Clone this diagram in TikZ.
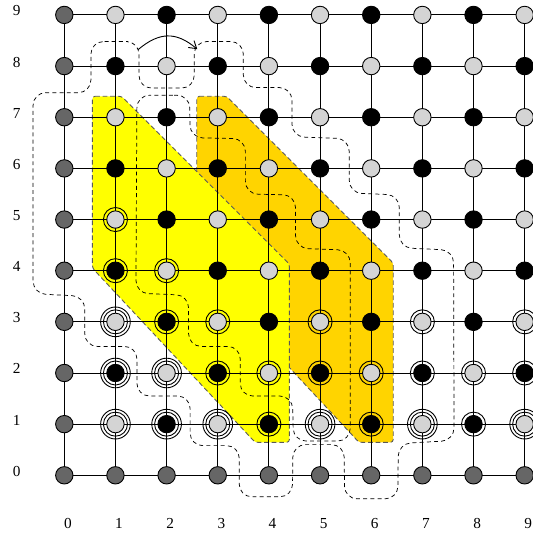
\documentclass[tikz,border=0pt]{standalone}
\usepackage{fontspec}
\setmainfont{Liberation Serif}
\usetikzlibrary{arrows.meta, backgrounds}

\definecolor{zoneyellow}{RGB}{255,255,0}
\definecolor{zonegold}{RGB}{255,212,0}

\tikzset{
    site/.style={circle, draw, line width=0.5pt, inner sep=0pt, minimum size=0.34cm},
    bordersite/.style={site, fill=black!60},
    lightsite/.style={site, fill=black!17},
    darksite/.style={site, fill=black},
    ring/.style={draw, line width=0.5pt},
    gridline/.style={line width=0.5pt},
    zone/.style={draw=black!65, line width=0.5pt, dash pattern=on 2.6pt off 1.6pt, rounded corners=1.5pt},
    contour/.style={draw, line width=0.4pt, dash pattern=on 2.2pt off 1.8pt, rounded corners=7pt},
    shiftarrow/.style={-{Straight Barb[length=4pt,width=5pt]}, line width=0.5pt},
    axislabel/.style={font=\fontsize{8.5}{10}\selectfont, inner sep=0pt}
}

\begin{document}
\begin{tikzpicture}
    \useasboundingbox (-1.257,-1.167) rectangle (9.144,9.292);

    % Lattice sites
    \foreach \i in {0,...,9} {
        \foreach \j in {0,...,9} {
            \pgfmathtruncatemacro{\parity}{mod(\i+\j,2)}
            \ifnum\i=0 \def\kind{bordersite}\else
              \ifnum\j=0 \def\kind{bordersite}\else
                \ifnum\parity=0 \def\kind{lightsite}\else\def\kind{darksite}\fi
              \fi
            \fi
            \node[\kind] (n-\i-\j) at (\i,\j) {};
        }
    }

    % Rings
    \foreach \p in {1-5,1-4,2-4,2-3,3-3,5-3,7-3,9-3,3-2,4-2,5-2,6-2,7-2,8-2,9-2,4-1,6-1,8-1}
        \draw[ring] (n-\p) circle[radius=0.235];
    \foreach \p in {1-3,1-2,2-2,1-1,2-1,3-1,5-1,7-1,9-1} {
        \draw[ring] (n-\p) circle[radius=0.235];
        \draw[ring] (n-\p) circle[radius=0.29];
    }

    % Axis labels
    \foreach \k in {0,...,9} {
        \node[axislabel] (col-\k) at (\k+0.07,-0.95) {\k};
        \node[axislabel] (row-\k) at (-0.93,\k+0.08) {\k};
    }

    \begin{scope}[on background layer]
        % Shaded zones
        \path[zone, fill=zonegold] (2.59,7.41) -- (3.17,7.41) -- (6.43,4.15) -- (6.43,0.645) -- (5.76,0.645) -- (2.59,4.05) -- cycle;
        \path[zone, fill=zoneyellow] (0.55,7.41) -- (1.12,7.41) -- (4.40,4.13) -- (4.40,0.645) -- (3.73,0.645) -- (0.55,4.05) -- cycle;

        % Bonds
        \foreach \k in {0,...,9} {
            \draw[gridline] (n-0-\k) -- (n-9-\k);
            \draw[gridline] (n-\k-0) -- (n-\k-9);
        }

        % Contours
        \draw[contour] (1.0,8.48) -- (1.46,8.48) -- (1.46,7.57) -- (2.54,7.57) -- (2.54,8.48) -- (3.50,8.48) -- (3.50,7.58) -- (4.45,7.58) -- (4.45,6.62) -- (5.57,6.58) -- (5.57,5.52) -- (6.55,5.48) -- (6.55,4.45) -- (7.61,4.40) -- (7.62,0.68) -- (6.53,0.62) -- (6.52,-0.46) -- (5.48,-0.46) -- (5.47,0.60) -- (4.47,0.60) -- (4.46,-0.42) -- (3.42,-0.42) -- (3.42,0.58) -- (2.46,0.58) -- (2.46,1.55) -- (1.42,1.55) -- (1.42,2.52) -- (0.40,2.52) -- (0.40,3.50) -- (-0.61,3.55) -- (-0.61,7.48) -- (0.52,7.48) -- (0.52,8.48) -- cycle;
        \draw[contour] (1.9,7.43) -- (2.45,7.43) -- (2.46,6.60) -- (3.54,6.58) -- (3.54,5.50) -- (4.52,5.48) -- (4.52,4.44) -- (5.59,4.40) -- (5.59,0.67) -- (4.48,0.67) -- (4.46,1.55) -- (3.44,1.55) -- (3.44,2.52) -- (2.43,2.52) -- (2.43,3.52) -- (1.40,3.56) -- (1.42,7.43) -- cycle;
    \end{scope}

    % Shift arrow
    \coordinate (shiftfrom) at (1.44,8.32);
    \coordinate (shiftto) at (2.60,8.33);
    \draw[shiftarrow] (shiftfrom) to[out=40, in=140, looseness=1.2] (shiftto);
\end{tikzpicture}
\end{document}
